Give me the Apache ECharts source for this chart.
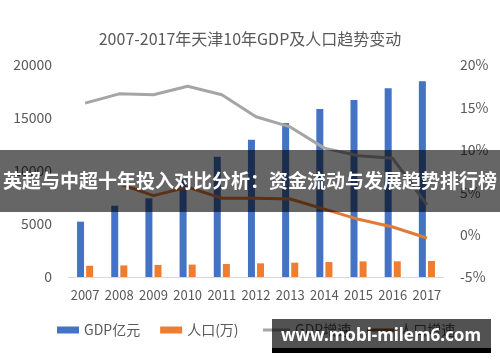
<!DOCTYPE html>
<html><head><meta charset="utf-8">
<script src="https://cdn.jsdelivr.net/npm/echarts@6/dist/echarts.min.js"></script>
<style>html,body{margin:0;padding:0;background:#fff}#c{width:500px;height:362px}</style>
</head><body><div id="c"></div>
<script>
const years = ['2007','2008','2009','2010','2011','2012','2013','2014','2015','2016','2017'];
const gdp = [5220, 6720, 7420, 9200, 11340, 12950, 14530, 15840, 16690, 17800, 18460];
const population = [1060, 1090, 1140, 1170, 1230, 1290, 1350, 1410, 1470, 1480, 1510];
const gdpGrowth = [15.5, 16.6, 16.5, 17.5, 16.5, 13.9, 12.7, 10.2, 9.3, 9.0, 3.5];
const popGrowth = [null, 6.0, 4.6, 5.6, 4.3, 4.3, 4.2, 3.0, 1.8, 0.9, -0.4];
const leftTicks = {min: 0, max: 20000, interval: 5000};
const rightTicks = {min: -5, max: 20, interval: 5};
const titleText = '2007-2017年天津10年GDP及人口趋势变动';
const bannerText = '英超与中超十年投入对比分析：资金流动与发展趋势排行榜';
const watermarkText = 'www.mobi-milem6.com';

const font = '"Noto Sans CJK SC", "Noto Sans", sans-serif';
const txt = '#595959';
const legendText = {fontFamily: font, fontSize: 14, color: txt};
const chart = echarts.init(document.getElementById('c'));
chart.setOption({
  animation: false,
  textStyle: {fontFamily: font},
  title: {text: titleText, left: 'center', top: 26,
    textStyle: {fontFamily: font, fontSize: 16, fontWeight: 'normal', color: txt}},
  grid: {left: 68, right: 56, top: 65, bottom: 85, containLabel: false},
  legend: [
    {top: 318, left: 52, itemGap: 20, itemWidth: 22, itemHeight: 7, textStyle: legendText,
      data: [{name: 'GDP亿元', icon: 'rect'}, {name: '人口(万)', icon: 'rect'}]},
    {top: 318, left: 258, itemGap: 16, itemWidth: 27, itemHeight: 3, textStyle: legendText,
      data: [{name: 'GDP增速', icon: 'rect'}, {name: '人口增速', icon: 'rect'}]}
  ],
  xAxis: {type: 'category', data: years,
    axisLine: {lineStyle: {color: '#d9d9d9'}}, axisTick: {show: false},
    axisLabel: {fontFamily: font, fontSize: 13, color: txt, margin: 12, interval: 0}},
  yAxis: [
    {type: 'value', min: leftTicks.min, max: leftTicks.max, interval: leftTicks.interval,
      splitLine: {show: false}, axisLine: {show: false}, axisTick: {show: false},
      axisLabel: {fontFamily: font, fontSize: 14, color: txt, margin: 16, formatter: v => String(v)}},
    {type: 'value', min: rightTicks.min, max: rightTicks.max, interval: rightTicks.interval,
      splitLine: {show: false}, axisLine: {show: false}, axisTick: {show: false},
      axisLabel: {fontFamily: font, fontSize: 14, color: txt, margin: 16, formatter: '{value}%'}}
  ],
  series: [
    {name: 'GDP亿元', type: 'bar', data: gdp, barWidth: 7, barGap: '30%', itemStyle: {color: '#4472C4'}},
    {name: '人口(万)', type: 'bar', data: population, barWidth: 7, itemStyle: {color: '#ED7D31'}},
    {name: 'GDP增速', type: 'line', yAxisIndex: 1, data: gdpGrowth, symbol: 'none',
      lineStyle: {color: '#A5A5A5', width: 3}, itemStyle: {color: '#A5A5A5'}},
    {name: '人口增速', type: 'line', yAxisIndex: 1, data: popGrowth, symbol: 'none',
      lineStyle: {color: '#E07A38', width: 3}, itemStyle: {color: '#9C5A2E'}}
  ],
  graphic: [
    {type: 'rect', z: 100, shape: {x: 0, y: 150, width: 500, height: 62}, style: {fill: 'rgba(0,0,0,0.6)'}},
    {type: 'text', z: 101, x: 250, y: 181, style: {text: bannerText, fill: '#fff', align: 'center', verticalAlign: 'middle',
      font: 'bold 19px "Noto Sans CJK SC", sans-serif'}},
    {type: 'rect', z: 100, shape: {x: 272, y: 319, width: 219, height: 29}, style: {fill: 'rgba(0,0,0,0.68)'}},
    {type: 'rect', z: 100, shape: {x: 272, y: 348, width: 219, height: 5}, style: {fill: '#000'}},
    {type: 'text', z: 101, x: 381, y: 336, style: {text: watermarkText, fill: '#fff', align: 'center', verticalAlign: 'middle',
      font: 'bold 17px "Noto Sans", sans-serif'}}
  ]
});
</script></body></html>
